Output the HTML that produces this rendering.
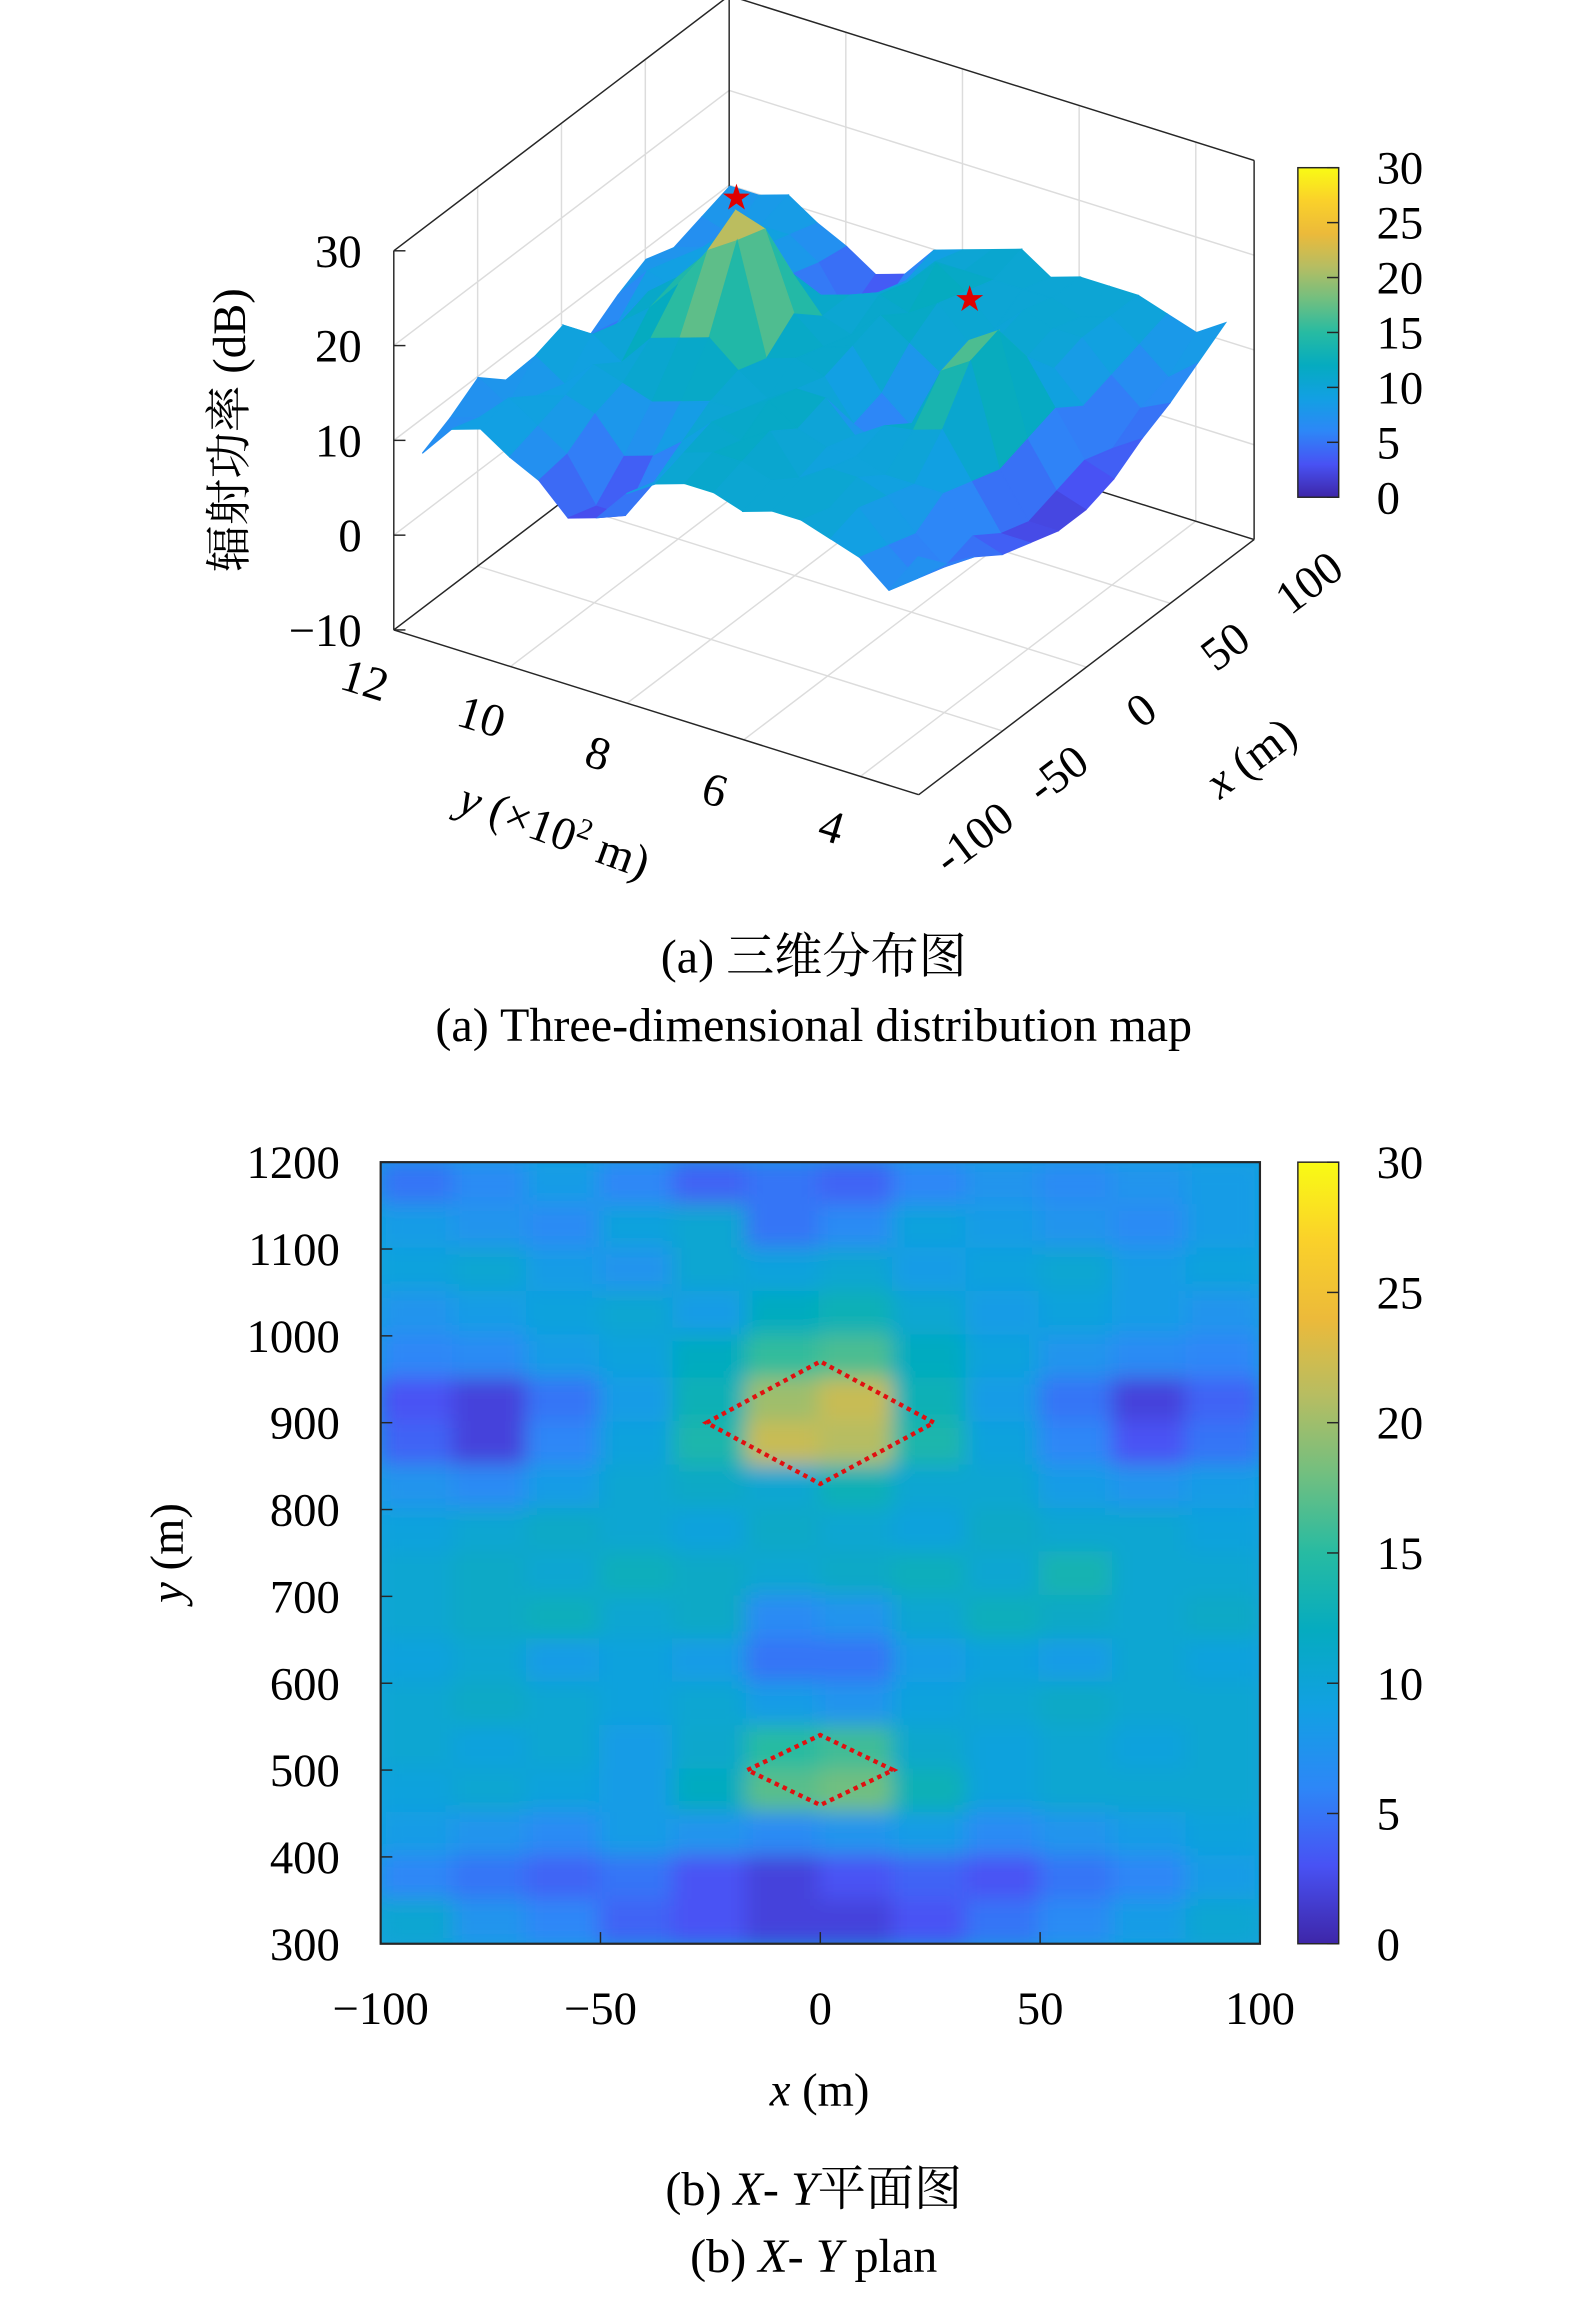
<!DOCTYPE html>
<html><head><meta charset="utf-8"><style>
html,body{margin:0;padding:0;background:#fff;}
svg{display:block;font-family:"Liberation Serif","Noto Serif CJK SC",serif;}
</style></head><body>
<svg id="fig" width="1575" height="2301" viewBox="0 0 1080 1578" xmlns="http://www.w3.org/2000/svg">
<defs>
<filter id="blur" x="-5%" y="-5%" width="110%" height="110%"><feGaussianBlur stdDeviation="7"/></filter>
<clipPath id="hmclip"><rect x="261" y="797" width="603" height="536"/></clipPath>
<linearGradient id="parula" x1="0" y1="1" x2="0" y2="0">
<stop offset="0" stop-color="#3e26a8"/><stop offset="0.1" stop-color="#4852f4"/><stop offset="0.2" stop-color="#2d87f7"/><stop offset="0.3" stop-color="#12a0e3"/><stop offset="0.4" stop-color="#05abc0"/><stop offset="0.5" stop-color="#27bba2"/><stop offset="0.6" stop-color="#71bf80"/><stop offset="0.7" stop-color="#b6bd62"/><stop offset="0.8" stop-color="#ecba3a"/><stop offset="0.9" stop-color="#fad12a"/><stop offset="1" stop-color="#f9fb14"/>
</linearGradient>
</defs>
<g id="top3d"></g>
<g id="heat"></g>
<text x="558" y="667" font-size="33" text-anchor="middle">(a) 三维分布图</text>
<text x="558" y="714" font-size="33" text-anchor="middle">(a) Three-dimensional distribution map</text>
<text x="558" y="1512" font-size="33" text-anchor="middle">(b) <tspan font-style="italic">X</tspan>- <tspan font-style="italic">Y</tspan>平面图</text>
<text x="558" y="1558" font-size="33" text-anchor="middle">(b) <tspan font-style="italic">X</tspan>- <tspan font-style="italic">Y</tspan> plan</text>
</svg>
<script>
const xCats = [-91.7,-75,-58.3,-41.7,-25,-8.3,8.3,25,41.7,58.3,75,91.7];
const yCats = [1175,1125,1075,1025,975,925,875,825,775,725,675,625,575,525,475,425,375,325];
const powerGrid = [
[5,6.5,8.5,6,4,5,4,6,7.5,6.5,7.5,8.5],
[8.5,7.5,6.5,9.5,10.5,5,6.5,9.5,8.5,7.5,6.5,8.5],
[9.5,10.5,8.5,7.5,10.5,9.5,10.5,8.5,9.5,10.5,8.5,9.5],
[7.5,8.5,9.5,10.5,8.5,12,13,10.5,8.5,9.5,8.5,7.5],
[6,6.5,8.5,9.5,12,15.5,16.5,12,9.5,7.5,6.5,6],
[3,2,5,8.5,13,20,22,13,8.5,5,2,4],
[4,2,6,9.5,14,22,21,14,9.5,6,3,5],
[7.5,6.5,8.5,10.5,11.5,10.5,13,10.5,10.5,8.5,7.5,8.5],
[9.5,10.5,11.5,10.5,9.5,11.5,10.5,9.5,11.5,10.5,10.5,9.5],
[10.5,11.5,10.5,12.5,11.5,10.5,11.5,12.5,10.5,13.5,10.5,10.5],
[10.5,11.5,12.5,10.5,11.5,6.5,7.5,10.5,12.5,11.5,10.5,11.5],
[9.5,10.5,8.5,9.5,8.5,5,5,8.5,9.5,8.5,10.5,9.5],
[10.5,11.5,10.5,9.5,10.5,8.5,7.5,9.5,10.5,11.5,10.5,10.5],
[10.5,9.5,10.5,8.5,11,15,16,11,9.5,10.5,9.5,10.5],
[9.5,10.5,9.5,8.5,12,17,18,13,9.5,10.5,10.5,10.5],
[8.5,7.5,6.5,8.5,7.5,6.5,7.5,8.5,6.5,7.5,8.5,9.5],
[6,5,4,5,3,2,3,4,3,5,6,8.5],
[10.5,7.5,6,4,3,2,2,3,5,6.5,8.5,10.5]
];
const zTicks = [-10,0,10,20,30];
const yTicks3d = [12,10,8,6,4];
const xTicks = [-100,-50,0,50,100];
const cbTicks = [0,5,10,15,20,25,30];
const yTicksHm = [300,400,500,600,700,800,900,1000,1100,1200];
const peaks = [[0,900,28],[0,500,25]];

const NS="http://www.w3.org/2000/svg";
function mk(parent,tag,attrs,text){const e=document.createElementNS(NS,tag);for(const k in attrs)e.setAttribute(k,attrs[k]);if(text!==undefined)e.textContent=text;parent.appendChild(e);return e;}
const stops=[[0,[62,38,168]],[0.1,[72,82,244]],[0.2,[45,135,247]],[0.3,[18,160,227]],[0.4,[5,171,192]],[0.5,[39,187,162]],[0.6,[113,191,128]],[0.7,[182,189,98]],[0.8,[236,186,58]],[0.9,[250,209,42]],[1,[249,251,20]]];
function parula(t){t=Math.max(0,Math.min(1,t));for(let i=1;i<stops.length;i++){if(t<=stops[i][0]){const a=stops[i-1],b=stops[i];const f=(t-a[0])/(b[0]-a[0]);const c=a[1].map((v,j)=>Math.round(v+(b[1][j]-v)*f));return `rgb(${c[0]},${c[1]},${c[2]})`;}}return 'rgb(249,251,20)';}

// ---------- 3D ----------
const top3d=document.getElementById('top3d');
function P(x,y,z){const xn=(x+100)/200,yn=(1200-y)/900;return [270+xn*230+yn*360, 432-xn*175+yn*113-(z+10)*6.5];}
const gridStroke='#dcdcdc';
for(const z of zTicks){const a=P(-100,1200,z),b=P(100,1200,z),c=P(100,300,z);
 const l=mk(top3d,'polyline',{points:`${a} ${b} ${c}`,fill:'none',stroke:gridStroke,'stroke-width':1});
 }
for(const t of [400,600,800,1000]){const a=P(100,t,-10),b=P(100,t,30),c=P(-100,t,-10);
 const l=mk(top3d,'polyline',{points:`${c} ${a} ${b}`,fill:'none',stroke:gridStroke,'stroke-width':1});
 }
for(const t of [-50,0,50]){const a=P(t,300,-10),b=P(t,1200,-10),c=P(t,1200,30);
 const l=mk(top3d,'polyline',{points:`${a} ${b} ${c}`,fill:'none',stroke:gridStroke,'stroke-width':1});
 }
const edges=[[P(-100,1200,-10),P(-100,1200,30)],[P(-100,1200,30),P(100,1200,30)],[P(100,1200,30),P(100,300,30)],[P(100,1200,-10),P(100,1200,30)],[P(100,300,-10),P(100,300,30)],[P(-100,1200,-10),P(-100,300,-10)],[P(-100,300,-10),P(100,300,-10)],[P(-100,1200,-10),P(100,1200,-10)],[P(100,1200,-10),P(100,300,-10)]];
for(const [a,b] of edges){const l=mk(top3d,'line',{x1:a[0],y1:a[1],x2:b[0],y2:b[1],stroke:'#262626','stroke-width':1});}
const zOff=3;
const quads=[];
for(let r=0;r<yCats.length-1;r++)for(let c=0;c<xCats.length-1;c++){
 const v=[powerGrid[r][c],powerGrid[r][c+1],powerGrid[r+1][c+1],powerGrid[r+1][c]];
 const pts=[P(xCats[c],yCats[r],v[0]+zOff),P(xCats[c+1],yCats[r],v[1]+zOff),P(xCats[c+1],yCats[r+1],v[2]+zOff),P(xCats[c],yCats[r+1],v[3]+zOff)];
 const depth=(xCats[c]+100)/200+(yCats[r]-300)/900;
 quads.push({pts,depth,val:(v[0]+v[1]+v[2]+v[3])/4});}
quads.sort((a,b)=>b.depth-a.depth);
const sg=mk(top3d,'g',{});
for(const q of quads){const col=parula(q.val/30);const p=mk(sg,'polygon',{points:q.pts.map(p=>p.join(',')).join(' '),fill:col,stroke:col,'stroke-width':0.8});
 }
for(const pk of peaks){const s=P(pk[0],pk[1],pk[2]);const t=mk(top3d,'text',{x:s[0],y:s[1]+7,'font-size':20,fill:'#e00000','text-anchor':'middle'},'★');
 }
for(const z of zTicks){const p=P(-100,1200,z);const l=mk(top3d,'line',{x1:p[0],y1:p[1],x2:p[0]+8,y2:p[1],stroke:'#262626'});
 const t=mk(top3d,'text',{x:p[0]-22,y:p[1]+11,'font-size':32,'text-anchor':'end'},z<0?'−'+(-z):String(z));}
for(const yt of yTicks3d){const p=P(-100,yt*100,-10);const t=mk(top3d,'text',{x:p[0]-20,y:p[1]+45,'font-size':32,'text-anchor':'middle',transform:`rotate(17 ${p[0]-20} ${p[1]+35})`},String(yt));
 }
for(const xt of xTicks){const p=P(xt,300,-10);const t=mk(top3d,'text',{x:p[0]+38,y:p[1]+40,'font-size':32,'text-anchor':'middle',transform:`rotate(-37 ${p[0]+38} ${p[1]+30})`},xt<0?'-'+(-xt):String(xt));
 }
const zl=mk(top3d,'text',{x:168,y:295,'font-size':32,'text-anchor':'middle',transform:'rotate(-90 168 295)'},'辐射功率 (dB)');
const yl=mk(top3d,'text',{x:380,y:580,'font-size':32,'text-anchor':'middle',transform:'rotate(20 380 570)'});
yl.innerHTML='<tspan font-style="italic">y</tspan> (×10<tspan font-size="20" dy="-12">2</tspan><tspan dy="12"> m)</tspan>';
const xl=mk(top3d,'text',{x:858,y:530,'font-size':32,'text-anchor':'middle',transform:'rotate(-37 858 520)'});
xl.innerHTML='<tspan font-style="italic">x</tspan> (m)';
function colorbar(y0,y1,labelName){const g=mk(document.getElementById('fig'),'g',{});
 const r=mk(g,'rect',{x:890,y:y0,width:28,height:y1-y0,fill:'url(#parula)',stroke:'#262626','stroke-width':1});
 for(const v of cbTicks){const y=y1-(v/30)*(y1-y0);const l=mk(g,'line',{x1:910,y1:y,x2:918,y2:y,stroke:'#262626'});
  const t=mk(g,'text',{x:944,y:y+11,'font-size':32},String(v));}}
colorbar(115,341,'colorbar-3d');

// ---------- heatmap ----------
const heat=document.getElementById('heat');
const L=261,R=864,T=797,B=1333;
const sx=x=>L+(x+100)/200*(R-L), sy=y=>B-(y-300)/900*(B-T);
const cg=mk(heat,'g',{'clip-path':'url(#hmclip)'});
const bg=mk(cg,'rect',{x:L,y:T,width:R-L,height:B-T,fill:parula(9.5/30)});
const bl=mk(cg,'g',{filter:'url(#blur)'});
const dx=(R-L)/12,dy=(B-T)/18;
for(let r=0;r<yCats.length;r++)for(let c=0;c<xCats.length;c++){
 const cell=mk(bl,'rect',{x:sx(xCats[c])-dx/2-1,y:sy(yCats[r])-dy/2-1,width:dx+2,height:dy+2,fill:parula(powerGrid[r][c]/30)});
 }
const fr=mk(heat,'rect',{x:L,y:T,width:R-L,height:B-T,fill:'none',stroke:'#262626','stroke-width':1.5});
function diamond(cx,cy,hw,hh,name){const p=mk(heat,'polygon',{points:`${cx-hw},${cy} ${cx},${cy-hh} ${cx+hw},${cy} ${cx},${cy+hh}`,fill:'none',stroke:'#e01010','stroke-width':3,'stroke-dasharray':'3 3'});
 }
diamond(sx(0),sy(900),78,42,'target-region-900');
diamond(sx(0),sy(500),50,24,'target-region-500');
for(const v of yTicksHm){const y=sy(v);const l=mk(heat,'line',{x1:L,y1:y,x2:L+8,y2:y,stroke:'#262626'});
 const t=mk(heat,'text',{x:233,y:y+11,'font-size':32,'text-anchor':'end'},String(v));}
for(const v of xTicks){const x=sx(v);const l=mk(heat,'line',{x1:x,y1:B,x2:x,y2:B-8,stroke:'#262626'});
 const t=mk(heat,'text',{x:x,y:1388,'font-size':32,'text-anchor':'middle'},v<0?'−'+(-v):String(v));}
const hx=mk(heat,'text',{x:562,y:1444,'font-size':32,'text-anchor':'middle'});hx.innerHTML='<tspan font-style="italic">x</tspan> (m)';
const hy=mk(heat,'text',{x:125,y:1065,'font-size':32,'text-anchor':'middle',transform:'rotate(-90 125 1065)'});hy.innerHTML='<tspan font-style="italic">y</tspan> (m)';
colorbar(797,1333,'colorbar-xy');
</script>
</body></html>
